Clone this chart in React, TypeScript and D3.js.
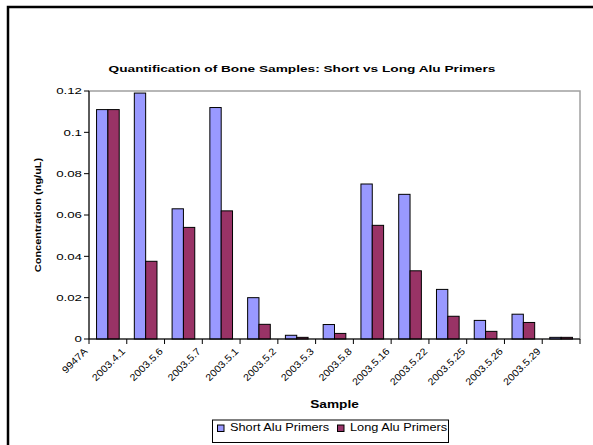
import React from "react";
import * as d3 from "d3";

// Sample identifiers along the x axis
const samples = [
  "9947A", "2003.4.1", "2003.5.6", "2003.5.7", "2003.5.1", "2003.5.2", "2003.5.3",
  "2003.5.8", "2003.5.16", "2003.5.22", "2003.5.25", "2003.5.26", "2003.5.29",
];

// Concentrations (ng/uL) for each primer set
const shortAlu = [0.111, 0.119, 0.063, 0.112, 0.02, 0.0018, 0.007, 0.075, 0.07, 0.024, 0.009, 0.012, 0.0008];
const longAlu = [0.111, 0.0376, 0.054, 0.062, 0.0071, 0.0008, 0.0027, 0.055, 0.033, 0.011, 0.0037, 0.008, 0.0008];

const yTicks = [0, 0.02, 0.04, 0.06, 0.08, 0.1, 0.12];

const seriesNames = ["Short Alu Primers", "Long Alu Primers"];
const seriesColors = ["#9999FF", "#993366"];

const W = 593;
const H = 445;
const plot = { left: 89, right: 580, top: 91, bottom: 339 };
const FONT = "'Liberation Sans', Arial, sans-serif";

export default function App() {
  const x = d3
    .scaleBand<string>()
    .domain(samples)
    .range([plot.left, plot.right])
    .paddingInner(0.4)
    .paddingOuter(0.2);
  const xSub = d3.scaleBand<number>().domain([0, 1]).range([0, x.bandwidth()]);
  const y = d3.scaleLinear().domain([0, 0.12]).range([plot.bottom, plot.top]);
  const step = x.step();
  const boundaries = d3.range(samples.length + 1).map((i) => plot.left + i * step);
  const series = [shortAlu, longAlu];

  return (
    <svg
      width={W}
      height={H}
      style={{ position: "absolute", left: 0, top: 0, display: "block", background: "#fff" }}
      fontFamily={FONT}
    >
      {/* outer chart frame */}
      <rect x={8} y={7} width={620} height={470} fill="#fff" stroke="#000" strokeWidth={2.5} />

      <text
        transform="translate(302,71.5) scale(1.44,1)"
        textAnchor="middle"
        fontSize={9.5}
        fontWeight="bold"
      >
        Quantification of Bone Samples: Short vs Long Alu Primers
      </text>

      {/* plot area border */}
      <rect
        x={plot.left}
        y={plot.top}
        width={plot.right - plot.left}
        height={plot.bottom - plot.top}
        fill="#fff"
        stroke="#a0a0a0"
        strokeWidth={1.5}
      />

      {/* bars */}
      {series.map((vals, s) =>
        vals.map((v, i) => (
          <rect
            key={`${s}-${i}`}
            x={(x(samples[i]) as number) + (xSub(s) as number)}
            y={y(v)}
            width={xSub.bandwidth()}
            height={plot.bottom - y(v)}
            fill={seriesColors[s]}
            stroke="#000"
            strokeWidth={1}
          />
        ))
      )}

      {/* y axis */}
      <line x1={plot.left} x2={plot.left} y1={plot.top} y2={plot.bottom} stroke="#000" strokeWidth={1} />
      {yTicks.map((t) => (
        <g key={t}>
          <line x1={plot.left - 5} x2={plot.left} y1={y(t)} y2={y(t)} stroke="#000" strokeWidth={1} />
          <text
            transform={`translate(${plot.left - 7},${y(t) + 3.4}) scale(1.4,1)`}
            textAnchor="end"
            fontSize={9.5}
          >
            {String(t)}
          </text>
        </g>
      ))}

      {/* x axis */}
      <line x1={plot.left} x2={plot.right} y1={plot.bottom} y2={plot.bottom} stroke="#000" strokeWidth={1} />
      {boundaries.map((bx, i) => (
        <line key={i} x1={bx} x2={bx} y1={plot.bottom} y2={plot.bottom + 5} stroke="#000" strokeWidth={1} />
      ))}
      {samples.map((name, i) => (
        <text
          key={name}
          transform={`translate(${boundaries[i] - 1},${plot.bottom + 13}) rotate(-45) scale(1.1,1)`}
          textAnchor="end"
          fontSize={9.8}
        >
          {name}
        </text>
      ))}

      {/* axis titles */}
      <text
        transform={`translate(41,${(plot.top + plot.bottom) / 2}) rotate(-90) scale(1.22,1)`}
        textAnchor="middle"
        fontSize={9}
        fontWeight="bold"
      >
        Concentration (ng/uL)
      </text>
      <text transform="translate(334.5,408.3) scale(1.33,1)" textAnchor="middle" fontSize={10.3} fontWeight="bold">
        Sample
      </text>

      {/* legend */}
      <rect x={212.5} y={420} width={236} height={22.5} fill="#fff" stroke="#000" strokeWidth={1} />
      {seriesNames.map((name, s) => {
        const lx = s === 0 ? 217.5 : 337.5;
        return (
          <g key={name}>
            <rect x={lx} y={425} width={6.5} height={6.5} fill={seriesColors[s]} stroke="#000" strokeWidth={1} />
            <text transform={`translate(${lx + 12.5},431) scale(1.16,1)`} fontSize={11}>
              {name}
            </text>
          </g>
        );
      })}
    </svg>
  );
}
